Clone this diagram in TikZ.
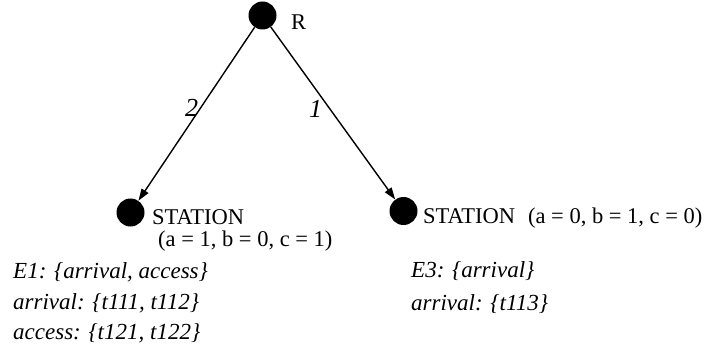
\documentclass[tikz,border=0pt]{standalone}
\usepackage{fontspec}
\setmainfont{Liberation Serif}
\usetikzlibrary{arrows.meta}
\tikzset{
  dot/.style={circle,fill=black,draw=none,minimum size=28pt,inner sep=0pt},
  edge/.style={line width=1.4pt,-{Triangle[length=12pt,width=8pt]}},
  up/.style={anchor=base west,inner sep=0pt,font=\fontsize{22.5}{26}\selectfont},
  it/.style={anchor=base west,inner sep=0pt,font=\fontsize{23}{26}\selectfont\itshape},
  lab/.style={inner sep=0pt,font=\fontsize{26}{30}\selectfont\itshape}
}
\begin{document}
\begin{tikzpicture}[x=1pt,y=-1pt]
\useasboundingbox (0,0) rectangle (709,358);
\node[dot] (R) at (262.5,15.5) {};
\node[dot] (L) at (130.5,212.5) {};
\node[dot] (Rt) at (403.5,211) {};
\node[up] (Rlab) at (291,30) {R};
\draw[edge] (R) -- (L);
\draw[edge] (R) -- (Rt);
\node[lab] (two) at (191.5,108) {2};
\node[lab] (one) at (315.5,108.5) {1};
\node[up] (s1) at (152,224) {STATION};
\node[up] (p1) at (158,246.5) {(a = 1, b = 0, c = 1)};
\node[up] (s2) at (423,223) {STATION\hspace{13pt}(a = 0, b = 1, c = 0)};
\node[it] (e1) at (13,278) {E1: \{arrival, access\}};
\node[it] (a1) at (13,309) {arrival: \{t111, t112\}};
\node[it] (c1) at (13,339) {access: \{t121, t122\}};
\node[it] (e3) at (411,277) {E3: \{arrival\}};
\node[it] (a3) at (411,310) {arrival: \{t113\}};
\end{tikzpicture}
\end{document}
